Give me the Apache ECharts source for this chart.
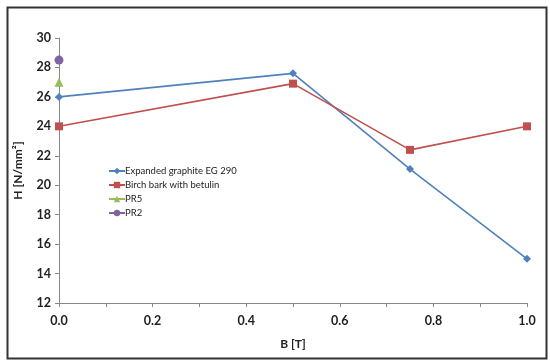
<!DOCTYPE html>
<html><head><meta charset="utf-8">
<script src="https://cdn.jsdelivr.net/npm/echarts@6/dist/echarts.min.js"></script>
<style>html,body{margin:0;padding:0;background:#fff}#c{width:550px;height:362px}</style>
</head><body><div id="c"></div>
<script>
const bValues = [0.0, 0.5, 0.75, 1.0];
const expandedGraphite = [26.0, 27.6, 21.1, 15.0];
const birchBark = [24.0, 26.9, 22.4, 24.0];
const pr5X = [0.0];
const pr5 = [27.0];
const pr2X = [0.0];
const pr2 = [28.5];
const seriesNames = ['Expanded graphite EG 290', 'Birch bark with betulin', 'PR5', 'PR2'];

const zip = (xs, ys) => xs.map((x, i) => [x, ys[i]]);
const chart = echarts.init(document.getElementById('c'));
const font = 'Lato, "Open Sans", sans-serif';
chart.setOption({
  animation: false,
  backgroundColor: '#fff',
  graphic: [{
    type: 'rect', left: 5, top: 5, shape: {width: 539, height: 351},
    style: {fill: 'none', stroke: '#333', lineWidth: 2}
  }],
  grid: {left: 59, right: 23, top: 38, bottom: 59},
  legend: {
    orient: 'vertical', left: 103, top: 161, itemGap: 4,
    itemWidth: 16, itemHeight: 8,
    textStyle: {fontFamily: font, fontSize: 9.5, color: '#222', padding: [0,0,0,-5]},
    data: seriesNames
  },
  xAxis: {
    type: 'value', min: 0, max: 1, interval: 0.1,
    name: 'B [T]', nameLocation: 'middle', nameGap: 35,
    nameTextStyle: {fontFamily: font, fontWeight: 'bold', fontSize: 12, color: '#222'},
    axisLine: {lineStyle: {color: '#888'}},
    axisTick: {inside: false, length: 4, lineStyle: {color: '#888'}},
    splitLine: {show: false},
    axisLabel: {
      fontFamily: font, fontWeight: 'bold', fontSize: 12.5, color: '#222', margin: 11,
      formatter: v => (Math.round(v * 10) % 2 === 0 ? v.toFixed(1) : '')
    }
  },
  yAxis: {
    type: 'value', min: 12, max: 30, interval: 2,
    name: 'H [N/mm²]', nameLocation: 'middle', nameGap: 35,
    nameTextStyle: {fontFamily: font, fontWeight: 'bold', fontSize: 12, color: '#222'},
    axisLine: {show: true, lineStyle: {color: '#888'}},
    axisTick: {show: true, length: 4, lineStyle: {color: '#888'}},
    splitLine: {show: false},
    axisLabel: {fontFamily: font, fontWeight: 'bold', fontSize: 12.5, color: '#222', margin: 8}
  },
  series: [
    {name: seriesNames[0], type: 'line', data: zip(bValues, expandedGraphite),
     symbol: 'diamond', symbolSize: 8, color: '#4F81BD', lineStyle: {width: 1.6}},
    {name: seriesNames[1], type: 'line', data: zip(bValues, birchBark),
     symbol: 'rect', symbolSize: 8, color: '#C0504D', lineStyle: {width: 1.6}},
    {name: seriesNames[2], type: 'line', data: zip(pr5X, pr5),
     symbol: 'triangle', symbolSize: 9, color: '#9BBB59', lineStyle: {width: 1.6}},
    {name: seriesNames[3], type: 'line', data: zip(pr2X, pr2),
     symbol: 'circle', symbolSize: 9, color: '#8064A2', lineStyle: {width: 1.6}}
  ]
});
</script></body></html>
